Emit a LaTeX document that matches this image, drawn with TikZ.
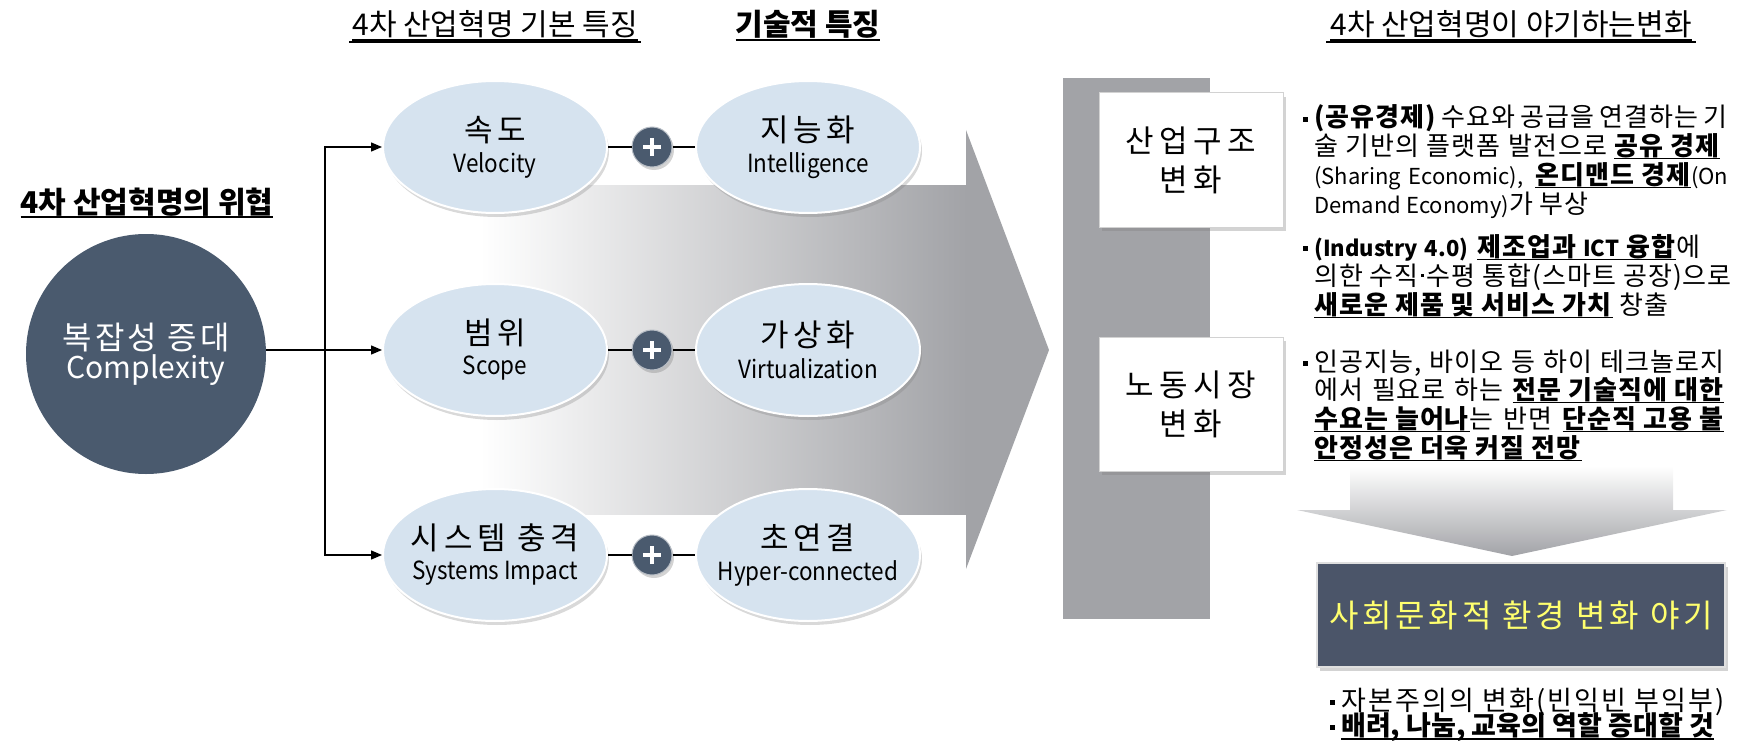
\documentclass[tikz,border=0pt]{standalone}
\usepackage{fontspec}
\setmainfont{Noto Sans CJK KR}
\usetikzlibrary{shapes.geometric,shadows,arrows.meta}
\definecolor{slate}{HTML}{4A5A6E}
\definecolor{ellblue}{HTML}{D6E3EF}
\definecolor{bargray}{HTML}{A2A3A7}
\definecolor{darkbox}{HTML}{4B5569}
\definecolor{yel}{HTML}{FFFF6E}
\newsavebox\ulbox
\newcommand\fsz[2]{\fontsize{#1}{#2}\selectfont}
\newcommand\bul{\makebox[11pt][l]{\rule[0.2em]{5pt}{5pt}}}
\newcommand\ul[1]{\sbox\ulbox{#1}\rlap{\rule[-0.17em]{\wd\ulbox}{0.07em}}\usebox\ulbox}
\newcommand\ub[1]{\ul{\textbf{#1}}}
\newcommand\mdot{\hspace{0.1em}\rule[0.32em]{0.11em}{0.11em}\hspace{0.1em}}
\newcommand\lat[1]{{\fsz{22}{26}\addfontfeatures{LetterSpace=0}#1}}
\newcommand\kor[1]{{\fsz{31}{34}\addfontfeatures{LetterSpace=15}#1}}
\newcommand\eng[1]{{\fsz{25}{34}\scalebox{0.9}[1]{#1}}}
\tikzset{
  conn/.style={draw=black, line width=1.4pt},
  arr/.style={conn, -{Triangle[length=11pt,width=9pt]}},
  titleline/.style={draw=black, line width=2.6pt},
  ell/.style={ellipse, minimum width=224pt, minimum height=132pt, inner sep=0pt,
    fill=ellblue, draw=white, line width=2pt,
    drop shadow={shadow xshift=2pt, shadow yshift=-4pt, opacity=0.3}},
  etxt/.style={align=center, inner sep=0pt},
  plusc/.style={circle, minimum size=40pt, inner sep=0pt, fill=slate, draw=white!60!slate, line width=1pt,
    drop shadow={shadow xshift=2pt, shadow yshift=-3pt, opacity=0.35},
    path picture={
      \draw[white, line width=4.5pt] ([xshift=-9pt]path picture bounding box.center) -- ([xshift=9pt]path picture bounding box.center);
      \draw[white, line width=4.5pt] ([yshift=-9pt]path picture bounding box.center) -- ([yshift=9pt]path picture bounding box.center);}},
  wbox/.style={rectangle, fill=white, draw=gray!35, line width=1pt, minimum width=184pt, minimum height=134pt,
    align=center, font=\fsz{31}{39}\addfontfeatures{LetterSpace=18},
    drop shadow={shadow xshift=3pt, shadow yshift=-4pt, opacity=0.35}},
  dbox/.style={rectangle, fill=darkbox, draw=gray!25, line width=2pt, minimum width=408pt, minimum height=104pt,
    text=yel, font=\fsz{32}{38}\addfontfeatures{LetterSpace=12},
    drop shadow={shadow xshift=3pt, shadow yshift=-4pt, opacity=0.35}},
  ttl/.style={anchor=base, inner sep=0pt, font=\fsz{30}{34}},
  txt/.style={anchor=base west, inner sep=0pt, font=\fsz{26}{30}\addfontfeatures{LetterSpace=4}},
  txtb/.style={anchor=base west, inner sep=0pt, font=\fsz{27}{30}},
}
\begin{document}
\begin{tikzpicture}[x=1pt,y=-1pt]
\useasboundingbox (0,0) rectangle (1742,741);

% big gradient arrow
\shade[left color=white, right color=bargray] (480,185) rectangle (967,514);
\fill[bargray] (966,130) -- (1049,350) -- (966,569) -- cycle;

% gray bar
\fill[bargray] (1063,78) rectangle (1210,619);

% titles
\node[ttl] (h1) at (495,36) {\ub{\mdseries 4차 산업혁명 기본 특징}};
\node[ttl] (h2) at (808,36) {\ub{기술적 특징}};
\node[ttl] (h3) at (1511,36) {\ub{\mdseries 4차 산업혁명이 야기하는변화}};
\node[ttl] (h0) at (147,213) {\ub{4차 산업혁명의 위협}};
\coordinate (h1a) at (349,42);
\coordinate (h1b) at (641,42);
\coordinate (h3a) at (1326,42);
\coordinate (h3b) at (1696,42);
\draw[titleline] (h1a) -- (h1b);
\draw[titleline] (h3a) -- (h3b);

% complexity circle
\node[circle, fill=slate, minimum size=240pt, inner sep=0pt, text=white, align=center] (C) at (146,354)
  {{\fsz{32}{42}\addfontfeatures{LetterSpace=10}복잡성 증대}\\[2pt]{\fsz{30}{42}Complexity}};

% ellipses
\node[ell] (v1) at (495,147) {};
\node[ell] (v2) at (495,350) {};
\node[ell] (v3) at (495,555) {};
\node[ell] (i1) at (808,147) {};
\node[ell] (i2) at (808,350) {};
\node[ell] (i3) at (808,555) {};
\node[etxt] (v1t) at (v1) {\kor{속도}\\[8pt]\eng{Velocity}};
\node[etxt] (v2t) at (v2) {\kor{범위}\\[8pt]\eng{Scope}};
\node[etxt] (v3t) at (v3) {\kor{시스템 충격}\\[8pt]\eng{Systems Impact}};
\node[etxt] (i1t) at (i1) {\kor{지능화}\\[8pt]\eng{Intelligence}};
\node[etxt] (i2t) at (i2) {\kor{가상화}\\[8pt]\eng{Virtualization}};
\node[etxt] (i3t) at (i3) {\kor{초연결}\\[8pt]\eng{Hyper-connected}};

% plus circles
\node[plusc] (p1) at (652,147) {};
\node[plusc] (p2) at (652,350) {};
\node[plusc] (p3) at (652,555) {};
\draw[conn] (v1) -- (p1); \draw[conn] (p1) -- (i1);
\draw[conn] (v2) -- (p2); \draw[conn] (p2) -- (i2);
\draw[conn] (v3) -- (p3); \draw[conn] (p3) -- (i3);

% branches
\coordinate (J) at (325,350);
\draw[conn] (C.east |- J) -- (J);
\draw[arr] (J) |- (v1);
\draw[arr] (J) -- (v2);
\draw[arr] (J) |- (v3);

% right boxes
\node[wbox] (b1) at (1191,160) {산업구조\\변화};
\node[wbox] (b2) at (1191,404) {노동시장\\변화};

% right text
\node[txt] (t1) at (1303,127) {\bul\makebox[413pt][s]{\textbf{(공유경제)} 수요와 공급을 연결하는 기}};
\node[txt] (t2) at (1314,155) {\makebox[406pt][s]{술 기반의 플랫폼 발전으로 \ub{공유 경제}}};
\node[txt] (t3) at (1314,184) {\makebox[414pt][s]{\lat{(Sharing Economic),} \ub{온디맨드 경제}\lat{(On}}};
\node[txt] (t4) at (1314,213) {\lat{Demand Economy)}가 부상};
\node[txt] (t5) at (1303,256) {\bul\makebox[386pt][s]{\lat{\textbf{(Industry 4.0)}} \ul{\textbf{제조업과 \lat{ICT} 융합}}에}};
\node[txt] (t6) at (1314,285) {의한 수직\mdot 수평 통합(스마트 공장)으로};
\node[txt] (t7) at (1314,314) {\ub{새로운 제품 및 서비스 가치} 창출};
\node[txt] (t8) at (1303,371) {\bul\makebox[410pt][s]{인공지능, 바이오 등 하이 테크놀로지}};
\node[txt] (t9) at (1314,399) {\makebox[410pt][s]{에서 필요로 하는 \ub{전문 기술직에 대한}}};
\node[txt] (t10) at (1314,428) {\makebox[410pt][s]{\ub{수요는 늘어나}는 반면 \ub{단순직 고용 불}}};
\node[txt] (t11) at (1314,457) {\ub{안정성은 더욱 커질 전망}};

% down arrow
\shade[top color=white, bottom color=bargray] (1350,466) -- (1673,466) -- (1673,510) -- (1727,510) -- (1512,556) -- (1297,510) -- (1350,510) -- cycle;

% result box
\node[dbox] (S) at (1521,615) {사회문화적 환경 변화 야기};

\node[txtb] (u1) at (1330,710) {\bul{\addfontfeatures{LetterSpace=8}자본주의의 변화(빈익빈 부익부)}};
\node[txtb] (u2) at (1330,735) {\bul\ub{배려, 나눔, 교육의 역할 증대할 것}};
\end{tikzpicture}
\end{document}
